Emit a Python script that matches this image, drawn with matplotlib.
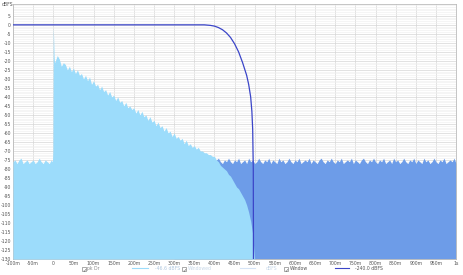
import numpy as np
import matplotlib.pyplot as plt

# light blue trace (pk Dr), dB values
pre_t = np.arange(-100, 0, 5)
pre_db = [-76, -75, -77, -75, -74, -77, -76, -75, -77, -76,
          -75, -77, -76, -74, -76, -77, -75, -76, -77, -75]
spike_t = [-2, -1, 0, 1, 2, 3]
spike_db = [-76, -70, -1, -8, -17, -21]
decay_t = np.arange(5, 405, 5)
decay_db = [-20, -17, -19, -23, -21, -22, -25, -23, -26, -24,
            -27, -25, -28, -27, -30, -28, -31, -29, -33, -31,
            -34, -33, -36, -34, -37, -36, -39, -37, -40, -39,
            -42, -40, -43, -42, -45, -43, -46, -45, -47, -46,
            -49, -47, -50, -48, -51, -50, -53, -51, -54, -53,
            -56, -54, -57, -56, -59, -57, -60, -59, -62, -60,
            -63, -62, -64, -63, -66, -64, -67, -66, -68, -67,
            -69, -68, -70, -70, -71, -71, -72, -72, -73, -73]
fall_t = [405, 410, 415, 420, 425, 430, 435, 440, 445, 450,
          455, 460, 465, 470, 475, 480, 485, 490, 495, 498, 500]
fall_db = [-75, -76, -78, -79, -80, -81, -83, -84, -86, -88,
           -90, -91, -93, -95, -97, -100, -104, -109, -116, -125, -130]

# dark blue trace, dB values
dark_t = np.arange(300, 1005, 5)
dark_db = [-75, -76, -74, -77, -75, -76, -74, -76, -77, -75,
           -76, -74, -77, -76, -75, -76, -74, -77, -75, -76,
           -77, -75, -74, -76, -77, -75, -76, -74, -76, -77,
           -75, -76, -74, -77, -76, -75, -77, -74, -76, -75,
           -77, -76, -74, -76, -77, -75, -76, -74, -77, -75,
           -76, -77, -74, -76, -75, -77, -76, -74, -76, -77,
           -75, -76, -74, -77, -76, -75, -76, -74, -77, -75,
           -76, -77, -75, -74, -76, -77, -75, -76, -74, -76,
           -77, -75, -76, -74, -77, -76, -75, -76, -74, -77,
           -75, -76, -77, -75, -74, -76, -77, -75, -76, -74,
           -76, -77, -75, -76, -74, -77, -76, -75, -77, -74,
           -76, -75, -77, -76, -74, -76, -77, -75, -76, -74,
           -77, -75, -76, -77, -74, -76, -75, -77, -76, -74,
           -76, -77, -75, -76, -74, -77, -76, -75, -76, -74,
           -77]

# window curve
win_t = [-100, 375, 390, 400, 410, 420, 430, 440, 450, 460,
         470, 480, 485, 490, 493, 495, 496.5, 497]
win_db = [0, 0, -0.3, -0.7, -1.5, -2.7, -4.5, -7, -10.5, -15,
          -21, -28, -33, -40, -48, -58, -80, -135]

xticks = np.arange(-100, 1001, 50)
xlabels = ['-100m', '-50m', '0'] + ['%dm' % v for v in range(50, 1000, 50)] + ['1s']
yticks = np.arange(5, -131, -5)

lb_t = np.concatenate([pre_t, spike_t, decay_t, fall_t])
lb_db = np.concatenate([pre_db, spike_db, decay_db, fall_db])

fig = plt.figure(figsize=(4.64, 2.75), dpi=100)
ax = fig.add_axes([0.028, 0.058, 0.955, 0.927])

ax.fill_between(dark_t, -130, dark_db, color='#6d9ce8', lw=0, zorder=2)
ax.fill_between(lb_t, -130, lb_db, color='#9cdcfb', lw=0, zorder=3)
ax.plot(win_t, win_db, color='#3b45c8', lw=0.9, zorder=4)

ax.set_xlim(-100, 1000)
ax.set_ylim(-130, 11.5)
ax.set_xticks(xticks)
ax.set_xticklabels(xlabels)
ax.set_yticks(yticks)
ax.set_yticklabels([str(v) for v in yticks])
ax.set_yticks(np.arange(11, -131, -1), minor=True)
ax.tick_params(axis='both', length=0, labelsize=3.3, colors='#555555', pad=1.5)
ax.tick_params(which='minor', length=0)
ax.grid(True, which='major', color='#d6d6d6', lw=0.5, zorder=0)
ax.grid(True, which='minor', axis='y', color='#eeeeee', lw=0.4, zorder=0)
ax.set_axisbelow(True)
for s in ax.spines.values():
    s.set_color('#bbbbbb')
    s.set_linewidth(0.6)

fig.text(0.004, 0.992, 'dBFS', fontsize=3.3, color='#555555', va='top')

# legend strip
ly = 0.025
def box(x):
    fig.patches.append(plt.Rectangle((x, ly - 0.012), 0.009, 0.015,
                                     transform=fig.transFigure, fill=False,
                                     ec='#888888', lw=0.5))
    fig.text(x + 0.0015, ly - 0.010, '✓', fontsize=3.5, color='#555555')

box(0.176)
fig.text(0.188, ly, 'pk Dr', fontsize=3.3, color='#8a8a8a', va='center')
fig.add_artist(plt.Line2D([0.285, 0.318], [ly, ly], color='#9cdcfb', lw=0.8))
fig.text(0.334, ly, '-46.6 dBFS', fontsize=3.3, color='#b0c8e0', va='center')
box(0.392)
fig.text(0.404, ly, 'Windowed', fontsize=3.3, color='#c8d8e8', va='center')
fig.add_artist(plt.Line2D([0.517, 0.550], [ly, ly], color='#d6e4f6', lw=0.8))
fig.text(0.572, ly, 'dBFS', fontsize=3.3, color='#c8d8e8', va='center')
box(0.612)
fig.text(0.624, ly, 'Window', fontsize=3.3, color='#555555', va='center')
fig.add_artist(plt.Line2D([0.722, 0.752], [ly, ly], color='#3b45c8', lw=0.8))
fig.text(0.765, ly, '-240.0 dBFS', fontsize=3.3, color='#555555', va='center')

fig.savefig('out.png', dpi=100)
